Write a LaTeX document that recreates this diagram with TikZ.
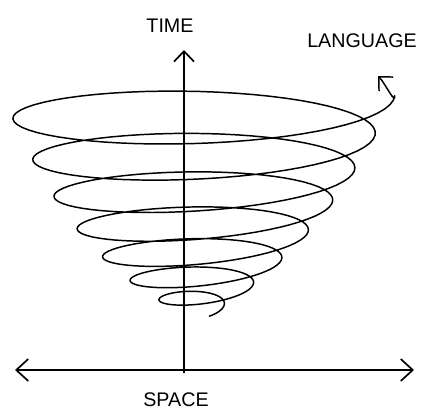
\documentclass[tikz,border=0pt]{standalone}
\usepackage{fontspec}
\setmainfont{Liberation Sans}
\usepackage{tikz}
\usetikzlibrary{arrows.meta,positioning,calc}
\tikzset{
  Axis/.style={line width=1.2pt, {Straight Barb[length=3mm,width=5.5mm]}-{Straight Barb[length=3mm,width=5.5mm]}},
  Up/.style={line width=1.2pt, -{Straight Barb[length=2.6mm,width=5mm]}},
  Coil/.style={line width=1.05pt, line join=round, -{Straight Barb[length=2.6mm,width=5mm]}},
  Lbl/.style={font=\fontsize{14}{16}\selectfont, inner sep=0pt}
}

\begin{document}
\begin{tikzpicture}[x=0.025cm, y=-0.025cm]
  \useasboundingbox (0,0) rectangle (422,410);
  % axes
  \coordinate (west) at (15,370);
  \coordinate (east) at (414,370);
  \coordinate (foot) at (184,373);
  \coordinate (top) at (184,50);
  \draw[Axis] (west) -- (east);
  \draw[Up] (foot) -- (top);
  % labels
  \node[Lbl] (time) at (170,26) {TIME};
  \node[Lbl] (lang) at (362,41) {LANGUAGE};
  \node[Lbl] (space) at (176,400) {SPACE};
  % the spiral, from the small end up, then the curl to the tip
  \coordinate (tip) at (378,76);
  \draw[Coil] plot[domain=0:7.17, samples=450, variable=\k]
    ({199+(20+24.5*\k+12*sin(25*\k))*cos(60-360*\k)},
     {309-14*\k-2.2*\k*\k-6*sin(25*\k)*(1+cos(60-360*\k))
      +(0.17*(20+24.5*\k)+5)*sin(60-360*\k)})
    to[out=-85,in=-45] (tip);
\end{tikzpicture}
\end{document}
